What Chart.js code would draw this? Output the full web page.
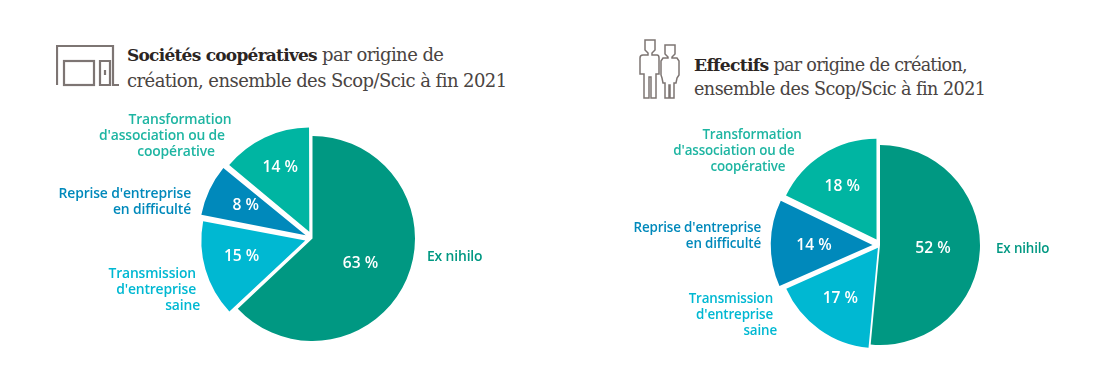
<!DOCTYPE html>
<html>
<head>
<meta charset="utf-8">
<script src="https://cdn.jsdelivr.net/npm/chart.js@4/dist/chart.umd.min.js"></script>
<style>
html, body { margin: 0; padding: 0; background: #fff; }
#page { position: relative; width: 1099px; height: 379px; overflow: hidden; }
canvas { position: absolute; }
.title { position: absolute; font-family: "DejaVu Serif", serif; color: #4a4442; white-space: nowrap; }
.title b { color: #2b2523; }
.t1 { font-size: 18px; line-height: 25px; letter-spacing: -0.56px; }
.t1 b { font-size: 17px; letter-spacing: -0.75px; }
.t2 { font-size: 17.6px; line-height: 24px; letter-spacing: -0.55px; }
.t2 b { font-size: 17.2px; letter-spacing: -0.7px; }
.t2 span { letter-spacing: -0.75px; }
.lab { position: absolute; font: 600 13.9px/16px "Open Sans", sans-serif; white-space: nowrap; letter-spacing: -0.15px; }
.small { font-size: 13.4px; }
.r { text-align: right; }
.c { text-align: center; }
.p4 { padding-right: 4px; }
.l2 { position: relative; left: -18px; }
.l3 { position: relative; left: -4px; }
svg { position: absolute; fill: none; stroke: #7d7573; }
</style>
</head>
<body>
<div id="page">
	<svg style="left:56px;top:44px" width="66" height="44" stroke-width="2.2">
		<path d="M1 41V2H57V41H63"/>
		<rect x="8" y="17" width="30" height="24"/>
		<path d="M44 17H54V41H44Z"/>
		<path d="M49 26V31"/>
	</svg>
	<svg style="left:630px;top:35px" width="60" height="70" stroke-width="1.5">
		<path d="M15 5H25V15L22 18V20H27Q29 20 29 23V39H26V63H21V42H19V63H14V39H10V23Q10 20 13 20H18V18L15 15Z"/>
		<path d="M35 10H45V19L42 22V23H47L49 26V40L47 43L46 48H44V63H40V50H39V63H35V48H33L32 43L31 40V26L33 23H38V22L35 19Z"/>
	</svg>
	<div class="title t1" style="left:127px;top:42px"><b>Sociétés coopératives</b> par origine de<br>création, ensemble des Scop/Scic à fin 2021</div>
	<div class="title t2" style="left:694px;top:53px"><b>Effectifs</b> <span>par origine de création,</span><br>ensemble des Scop/Scic à fin 2021</div>

	<canvas id="pie1" width="261" height="261" style="left:182px;top:108px"></canvas>
	<canvas id="pie2" width="260" height="260" style="left:750px;top:115px"></canvas>

	<div class="lab c" style="left:110px;top:111px;width:140px;color:#1eb5a2">Transformation<br><span class="l2">d'association ou de</span><br><span class="l3">coopérative</span></div>
	<div class="lab r" style="left:40px;top:185px;width:151px;color:#0089bb">Reprise d'entreprise<br>en difficulté</div>
	<div class="lab r" style="left:80px;top:265px;width:120px;color:#00b8d2"><span class="p4">Transmission</span><br><span class="p4">d'entreprise</span><br>saine</div>
	<div class="lab" style="left:427px;top:248px;color:#009882">Ex nihilo</div>

	<div class="lab small c" style="left:682px;top:126px;width:140px;color:#1eb5a2">Transformation<br><span class="l2">d'association ou de</span><br><span class="l3">coopérative</span></div>
	<div class="lab small r" style="left:610px;top:219px;width:151px;color:#0089bb">Reprise d'entreprise<br>en difficulté</div>
	<div class="lab small r" style="left:657px;top:290px;width:120px;color:#00b8d2"><span class="p4">Transmission</span><br><span class="p4">d'entreprise</span><br>saine</div>
	<div class="lab small" style="left:996px;top:240px;color:#009882">Ex nihilo</div>
</div>
<script>
var categories = ['Ex nihilo', 'Transmission d\'entreprise saine', 'Reprise d\'entreprise en difficulté', 'Transformation d\'association ou de coopérative'];
var societes = [63, 15, 8, 14];
var effectifs = [52, 17, 14, 18];
var colors = ['#009882', '#00b8d2', '#0089bb', '#00b5a2'];

// reglages de dessin par graphique (chart.js divise offset par 4 au dessin)
var layout1 = { padding: 13, offsets: [0, 30, 30, 30], labelRadius: [0.51, 0.72, 0.72, 0.74], labelDy: [4, -3, -2, -2] };
var layout2 = { padding: 15, offsets: [0, 14, 30, 26], labelRadius: [0.53, 0.68, 0.66, 0.71], labelDy: [1, -2, 2, 2] };

// pas de chartjs-plugin-datalabels ici, on ecrit les % a la main
var percentLabels = {
	id: 'percentLabels',
	afterDatasetsDraw: function (chart) {
		var ctx = chart.ctx;
		var meta = chart.getDatasetMeta(0);
		var conf = chart.options.plugins.percentLabels;
		ctx.save();
		ctx.fillStyle = '#fff';
		ctx.font = '600 15.6px "Open Sans", sans-serif';
		ctx.textAlign = 'center';
		ctx.textBaseline = 'middle';
		meta.data.forEach(function (arc, i) {
			var mid = (arc.startAngle + arc.endAngle) / 2;
			var d = arc.outerRadius * conf.radius[i];
			ctx.fillText(chart.data.datasets[0].data[i] + ' %', arc.x + Math.cos(mid) * d, arc.y + Math.sin(mid) * d + conf.dy[i]);
		});
		ctx.restore();
	}
};

var makePie = function (id, values, conf) {
	return new Chart(document.getElementById(id), {
		type: 'pie',
		data: {
			labels: categories,
			datasets: [{
				data: values,
				backgroundColor: colors,
				borderWidth: 0,
				offset: conf.offsets
			}]
		},
		options: {
			responsive: false,
			animation: false,
			layout: { padding: conf.padding },
			plugins: {
				legend: { display: false },
				tooltip: { enabled: false },
				percentLabels: { radius: conf.labelRadius, dy: conf.labelDy }
			}
		},
		plugins: [percentLabels]
	});
};

makePie('pie1', societes, layout1);
makePie('pie2', effectifs, layout2);
</script>
</body>
</html>
